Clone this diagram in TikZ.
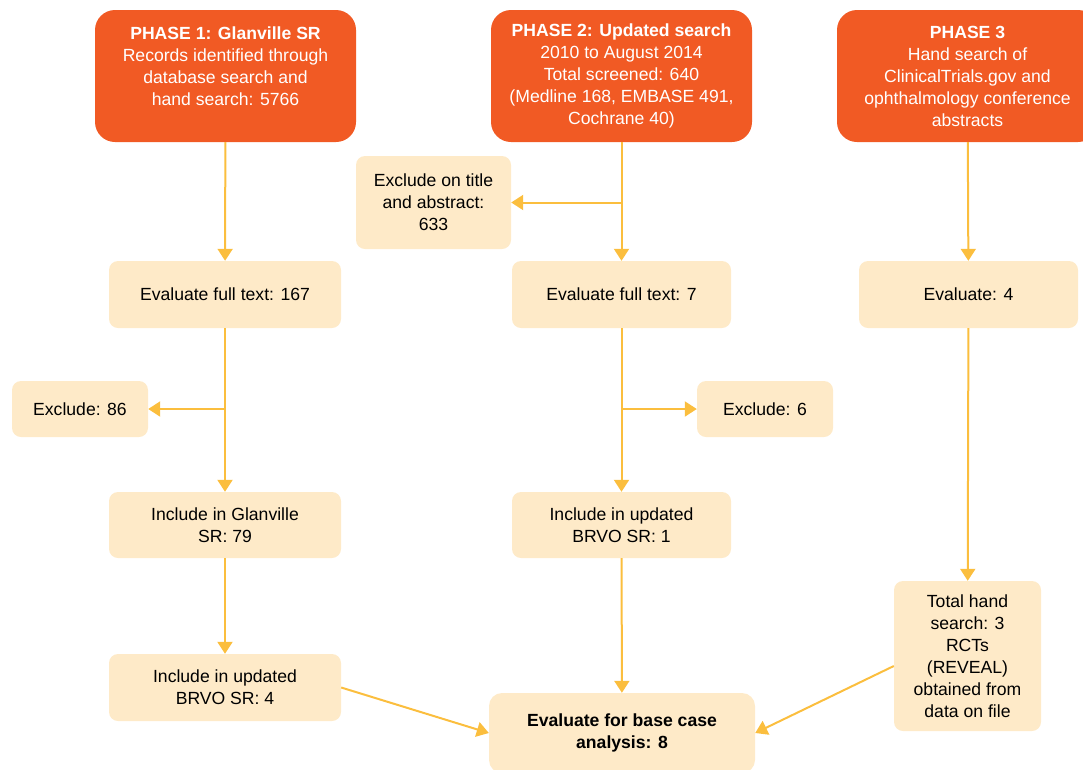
\documentclass[tikz,border=0pt]{standalone}
\usepackage{fontspec}
\setmainfont{Liberation Sans}
\usetikzlibrary{positioning, arrows.meta}
\definecolor{blaze}{RGB}{241,90,36}
\definecolor{peach}{RGB}{254,234,200}
\definecolor{amber}{RGB}{251,190,62}

\begin{document}
\begin{tikzpicture}[
  x=1pt, y=-1pt,
  every node/.style={
    align=center,
    inner sep=0mm,
    font=\fontsize{17.6}{22}\selectfont
  },
  phase/.style={
    fill=blaze,
    text=white,
    rounded corners=20pt,
    minimum width=261pt,
    minimum height=132pt
  },
  stepbox/.style={
    fill=peach,
    text=black,
    rounded corners=9pt
  },
  arrow/.style={
    draw=amber,
    line width=2pt,
    -{Triangle[width=15pt,length=12pt]}
  },
]

\useasboundingbox (0,0) rectangle (1083,769);

% phases
\node[phase] (p1) at (225.5,76) {\textbf{PHASE 1: Glanville SR}\\Records identified through\\database search and\\hand search: 5766\\[-2pt]};
\node[phase] (p2) at (621.5,76) {\textbf{PHASE 2: Updated search}\\2010 to August 2014\\Total screened: 640\\(Medline 168, EMBASE 491,\\Cochrane 40)};
\node[phase] (p3) at (967.5,76) {\textbf{PHASE 3}\\Hand search of\\ClinicalTrials.gov and\\ophthalmology conference\\abstracts};

% phase 1 column
\node[stepbox, minimum width=232pt, minimum height=67pt] (eft1) at (225,294.5) {Evaluate full text: 167};
\node[stepbox, minimum width=136pt, minimum height=56pt] (ex86) at (80,409) {Exclude: 86};
\node[stepbox, minimum width=232pt, minimum height=66pt] (inclg) at (225,525) {Include in Glanville\\SR: 79};
\node[stepbox, minimum width=232pt, minimum height=67pt] (brvo4) at (225,687.5) {Include in updated\\BRVO SR: 4};

% phase 2 column
\node[stepbox, minimum width=155pt, minimum height=93pt] (extit) at (433.5,202.5) {Exclude on title\\and abstract:\\633};
\node[stepbox, minimum width=219pt, minimum height=67pt] (eft2) at (621.5,294.5) {Evaluate full text: 7};
\node[stepbox, minimum width=136pt, minimum height=56pt] (ex6) at (765,409) {Exclude: 6};
\node[stepbox, minimum width=219pt, minimum height=66pt] (brvo1) at (621.5,525) {Include in updated\\BRVO SR: 1};

% phase 3 column
\node[stepbox, minimum width=219pt, minimum height=67pt] (ev3) at (968.5,294.5) {Evaluate: 4};
\node[stepbox, minimum width=147pt, minimum height=150pt] (hand) at (967.5,656) {Total hand\\search: 3\\RCTs\\(REVEAL)\\obtained from\\data on file};

% result
\node[stepbox, rounded corners=13pt, minimum width=266pt, minimum height=80pt] (base) at (622,733) {\textbf{Evaluate for base case}\\\textbf{analysis: 8}};

% connectors
\draw[arrow] (p1) -- (eft1);
\draw[arrow] (eft1) -- (inclg);
\draw[arrow] (eft1.south |- ex86) -- (ex86);
\draw[arrow] (inclg) -- (brvo4);
\draw[arrow] (brvo4.east) -- (base.west);

\draw[arrow] (p2) -- (eft2);
\draw[arrow] (p2.south |- extit) -- (extit);
\draw[arrow] (eft2) -- (brvo1);
\draw[arrow] (eft2.south |- ex6) -- (ex6);
\draw[arrow] (brvo1) -- (base);

\draw[arrow] (p3) -- (ev3);
\draw[arrow] (ev3) -- (hand);
\draw[arrow] ([yshift=-10pt]hand.west) -- (base.east);

\end{tikzpicture}
\end{document}
